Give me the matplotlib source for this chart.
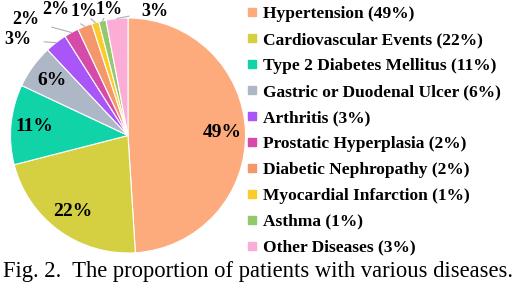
import numpy as np
import matplotlib.pyplot as plt

diseases = ['Hypertension', 'Cardiovascular Events', 'Type 2 Diabetes Mellitus',
            'Gastric or Duodenal Ulcer', 'Arthritis', 'Prostatic Hyperplasia',
            'Diabetic Nephropathy', 'Myocardial Infarction', 'Asthma', 'Other Diseases']
shares = [49, 22, 11, 6, 3, 2, 2, 1, 1, 3]
colors = ['#FDAA7C', '#D4D042', '#10D3A8', '#AEB7C6', '#AA55F7', '#D64BAA',
          '#F4976A', '#FBCB2C', '#94C86C', '#FBADD6']

# outside label positions (pixels) for the small slices
outside_pos = {4: (18, 40), 5: (26, 20), 6: (56, 9), 7: (84, 12), 8: (109, 10), 9: (155, 11)}

W, H = 516, 288
cx, cy, R = 128, 135.5, 117.5

fig = plt.figure(figsize=(W / 100, H / 100), dpi=100)
ax = fig.add_axes([0, 0, 1, 1])

wedges, _ = ax.pie(shares, colors=colors, startangle=90, counterclock=False,
                   wedgeprops=dict(edgecolor='white', linewidth=0.8))
ax.set_xlim(-cx / R, (W - cx) / R)
ax.set_ylim(-(H - cy) / R, cy / R)
ax.set_aspect('equal', adjustable='box')
ax.axis('off')

font = dict(family='Liberation Serif', weight='bold', fontsize=14)

for i, w in enumerate(wedges):
    mid = np.deg2rad((w.theta1 + w.theta2) / 2)
    label = f'{shares[i]}%'
    if i in outside_pos:
        px, py = outside_pos[i]
        tx, ty = (px - cx) / R, (cy - py) / R
        ax.annotate(label, xy=(np.cos(mid), np.sin(mid)), xytext=(tx, ty),
                    ha='center', va='center',
                    arrowprops=dict(arrowstyle='-', color='#B0B0B0', lw=0.8,
                                    shrinkA=7, shrinkB=0),
                    family='Liberation Serif', weight='bold', fontsize=13)
    else:
        ax.text(0.8 * np.cos(mid), 0.8 * np.sin(mid), label,
                ha='center', va='center', **font)

leg_labels = [f'{d} ({s}%)' for d, s in zip(diseases, shares)]
handles = [plt.Line2D([], [], marker='s', color=c, linestyle='', markersize=6)
           for c in colors]
fig.legend(handles, leg_labels, loc='upper left', bbox_to_anchor=(240 / W, 1 + 1 / H),
           frameon=False, prop=dict(family='Liberation Serif', weight='bold', size=12.5),
           handlelength=0.6, handletextpad=0.3, labelspacing=0.565, borderaxespad=0)

fig.text(0.5, 1 - 272 / H, 'Fig. 2.  The proportion of patients with various diseases.',
         ha='center', va='center', family='Liberation Serif', fontsize=16.3)

fig.savefig('out.png', dpi=100)
